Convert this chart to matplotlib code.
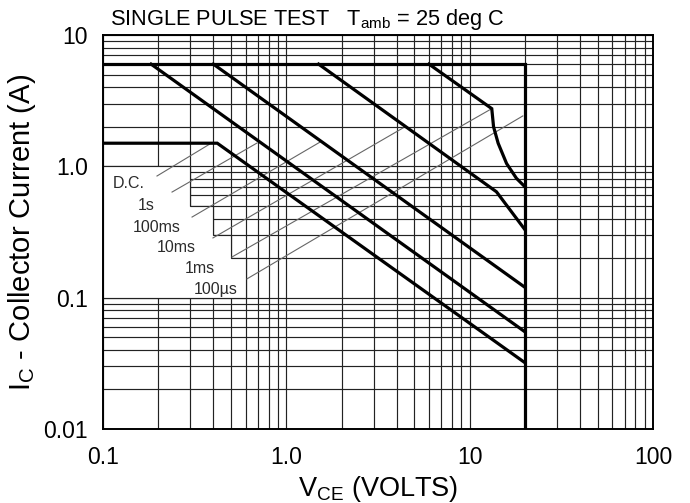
import matplotlib
matplotlib.use('Agg')
import matplotlib.pyplot as plt
from matplotlib.patches import Polygon
from matplotlib.ticker import LogLocator, FixedLocator, FixedFormatter, NullFormatter

plt.rcParams['font.family'] = ['Liberation Sans', 'DejaVu Sans']

# safe operating area curves (VCE in volts, IC in amps)
us100_v = [0.1, 20.0, 20.0]
us100_i = [6.0, 6.0, 0.01]

dc_v = [0.1, 0.42, 20.0]
dc_i = [1.5, 1.5, 0.032]

s1_v = [0.183, 20.0]
s1_i = [6.0, 0.055]

ms100_v = [0.4, 20.0]
ms100_i = [6.0, 0.12]

ms10_v = [1.5, 14.0, 20.0]
ms10_i = [6.0, 0.64, 0.33]

ms1_v = [6.0, 13.2, 13.5, 14.3, 15.9, 18.0, 20.0]
ms1_i = [6.0, 2.75, 2.0, 1.5, 1.05, 0.81, 0.70]

# curve labels and their leader lines
curve_labels = ['D.C.', '1s', '100ms', '10ms', '1ms', '100µs']
label_v = [0.1695, 0.192, 0.266, 0.322, 0.408, 0.545]
label_i = [0.746, 0.499, 0.345, 0.243, 0.168, 0.116]
leader_v0 = [0.197, 0.238, 0.306, 0.398, 0.505, 0.61]
leader_i0 = [0.844, 0.637, 0.411, 0.285, 0.204, 0.139]
leader_v1 = [0.383, 0.692, 1.527, 4.33, 13.2, 19.5]
leader_i1 = [1.48, 1.505, 1.53, 1.96, 2.75, 2.42]

# blank (no grid) area behind the labels, as a staircase
blank_v = [0.1, 0.3, 0.3, 0.4, 0.4, 0.5, 0.5, 0.6, 0.6, 0.1]
blank_i = [1.0, 1.0, 0.5, 0.5, 0.3, 0.3, 0.2, 0.2, 0.1, 0.1]

x_ticks = [0.1, 1.0, 10, 100]
x_ticklabels = ['0.1', '1.0', '10', '100']
y_ticks = [0.01, 0.1, 1.0, 10]
y_ticklabels = ['0.01', '0.1', '1.0', '10']

grid_col = '#222222'
grid_lw = 0.85

fig = plt.figure(figsize=(6.9, 5.03), dpi=100)
ax = fig.add_axes([103 / 690, 1 - 429 / 503, 550 / 690, 394 / 503])
ax.set_xscale('log')
ax.set_yscale('log')
ax.set_xlim(0.1, 100)
ax.set_ylim(0.01, 10)

ax.xaxis.set_major_locator(FixedLocator(x_ticks))
ax.xaxis.set_major_formatter(FixedFormatter(x_ticklabels))
ax.yaxis.set_major_locator(FixedLocator(y_ticks))
ax.yaxis.set_major_formatter(FixedFormatter(y_ticklabels))
ax.xaxis.set_minor_locator(LogLocator(base=10, subs=range(2, 10)))
ax.yaxis.set_minor_locator(LogLocator(base=10, subs=range(2, 10)))
ax.xaxis.set_minor_formatter(NullFormatter())
ax.yaxis.set_minor_formatter(NullFormatter())
ax.grid(which='both', color=grid_col, lw=grid_lw, zorder=1)
ax.set_axisbelow(True)
ax.tick_params(which='both', length=0)
ax.tick_params(axis='x', pad=12, labelsize=16.5)
ax.tick_params(axis='y', pad=11, labelsize=16.5)

for s in ax.spines.values():
    s.set_linewidth(1.4)
    s.set_color('black')

# label area without grid
ax.add_patch(Polygon(list(zip(blank_v, blank_i)), closed=True, fc='white',
                     ec=grid_col, lw=grid_lw, zorder=2))

thick = dict(color='black', lw=2.3, solid_joinstyle='miter', zorder=4)
ax.plot(us100_v, us100_i, **thick)
ax.plot(dc_v, dc_i, **thick)
ax.plot(s1_v, s1_i, **thick)
ax.plot(ms100_v, ms100_i, **thick)
ax.plot(ms10_v, ms10_i, **thick)
ax.plot(ms1_v, ms1_i, **thick)

for k in range(len(curve_labels)):
    ax.plot([leader_v0[k], leader_v1[k]], [leader_i0[k], leader_i1[k]],
            color='#666666', lw=0.8, zorder=3)
    ax.text(label_v[k], label_i[k], curve_labels[k], ha='right', va='center',
            fontsize=11.5, color='#2b2b2b', zorder=5)

ax.set_xlabel(r'V$_{\mathregular{CE}}$ (VOLTS)', fontsize=19.5, labelpad=4)
ax.set_ylabel(r'I$_{\mathregular{C}}$ - Collector Current (A)', fontsize=21)
ax.yaxis.set_label_coords(-0.118, 0.5)

fig.text(110 / 690, 1 - 25 / 503,
         r'SINGLE PULSE TEST   T$_{\mathregular{amb}}$ = 25 deg C',
         fontsize=15.7, ha='left', va='baseline')

fig.savefig('out.png', dpi=100)
